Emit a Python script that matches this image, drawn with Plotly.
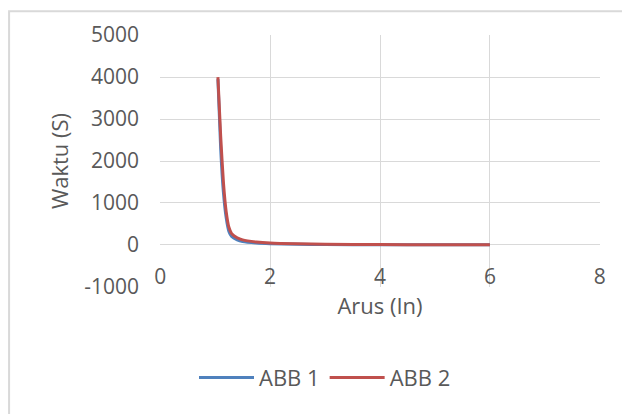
import plotly.graph_objects as go

# Data
arus = [1.05, 1.1, 1.15, 1.2, 1.25, 1.3, 1.4, 1.5, 1.75, 2.0, 2.5, 3.0, 4.0, 5.0, 6.0]
waktu_abb1 = [3950, 2300, 1250, 650, 320, 200, 120, 80, 45, 28, 15, 9, 5, 3, 2]
waktu_abb2 = [4000, 2600, 1500, 800, 420, 270, 170, 120, 70, 45, 25, 15, 8, 5, 3]
series_names = ["ABB 1", "ABB 2"]
x_ticks = [0, 2, 4, 6, 8]
y_ticks = [-1000, 0, 1000, 2000, 3000, 4000, 5000]
y_tick_labels = ["-1000", "0", "1000", "2000", "3000", "4000", "5000"]

FONT = "Open Sans"
TXT = "#595959"
GRID = "#d9d9d9"

fig = go.Figure()
fig.add_trace(go.Scatter(x=arus, y=waktu_abb1, name=series_names[0], mode="lines",
                         line=dict(color="#4F81BD", width=3, shape="spline", smoothing=0.6)))
fig.add_trace(go.Scatter(x=arus, y=waktu_abb2, name=series_names[1], mode="lines",
                         line=dict(color="#C0504D", width=3, shape="spline", smoothing=0.6)))

fig.update_layout(
    width=630, height=414,
    margin=dict(l=152, r=38, t=25, b=135),
    paper_bgcolor="white", plot_bgcolor="white",
    font=dict(family=FONT, size=21, color=TXT),
    showlegend=True,
    legend=dict(orientation="h", x=0.375, xanchor="center", y=-0.36, yanchor="middle",
                font=dict(family=FONT, size=22, color=TXT), itemwidth=55,
                traceorder="normal"),
    xaxis=dict(range=[-0.004, 8.004], tickvals=x_ticks, showgrid=True, gridcolor=GRID, gridwidth=1,
               zeroline=False, showline=False, anchor="free", position=0.1,
               tickfont=dict(family=FONT, size=21, color=TXT),
               title=dict(text="Arus (In)", font=dict(family=FONT, size=22, color=TXT), standoff=4)),
    yaxis=dict(range=[-1003, 5003], tickvals=y_ticks, ticktext=y_tick_labels,
               showgrid=True, gridcolor=GRID, gridwidth=1,
               zeroline=True, zerolinecolor=GRID, zerolinewidth=1, showline=False,
               ticklabelstandoff=20,
               tickfont=dict(family=FONT, size=21, color=TXT),
               title=dict(text="Waktu (S)", font=dict(family=FONT, size=22, color=TXT), standoff=9)),
    shapes=[dict(type="rect", xref="paper", yref="paper", x0=-0.343, x1=1.2, y0=-0.7, y1=1.094,
                 line=dict(color=GRID, width=2), fillcolor="rgba(0,0,0,0)", layer="below")],
)

fig.write_html("out.html")
